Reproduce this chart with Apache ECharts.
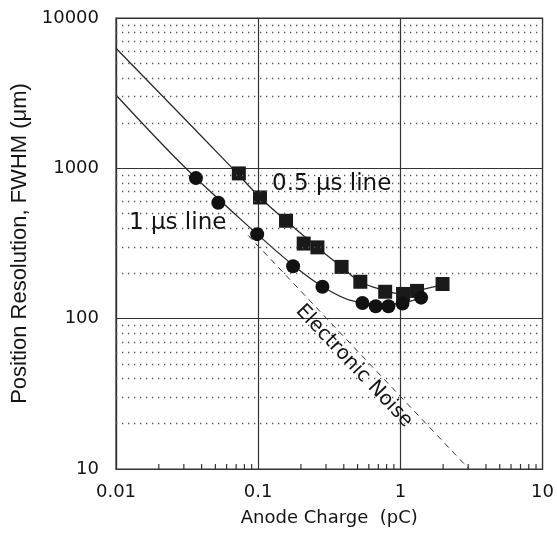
<!DOCTYPE html>
<html>
<head>
<meta charset="utf-8">
<script src="https://cdn.jsdelivr.net/npm/echarts@6/dist/echarts.min.js"></script>
<style>html,body{margin:0;padding:0;background:#fff}#c{width:557px;height:536px}</style>
</head>
<body>
<div id="c"></div>
<script>
// ---- data ----
const circX = [0.0365, 0.0524, 0.0984, 0.176, 0.283, 0.541, 0.671, 0.824, 1.035, 1.40];
const circY = [861, 590, 365, 223, 163, 127, 121, 121, 126, 138];
const sqX = [0.0731, 0.103, 0.157, 0.209, 0.261, 0.386, 0.523, 0.782, 1.045, 1.31, 1.98];
const sqY = [925, 640, 448, 316, 298, 221, 176, 151, 146, 153, 170];
// fitted curves
const fit05X = [0.01, 0.066, 0.103, 0.157, 0.261, 0.386, 0.52, 0.755, 1.02, 1.30, 1.94];
const fit05Y = [6285, 1000, 640, 448, 298, 221, 176, 155, 146, 153, 167];
const fit1X = [0.01, 0.031, 0.0984, 0.176, 0.285, 0.44, 0.75, 0.99, 1.37];
const fit1Y = [3073, 1000, 365, 227, 163, 133, 125, 126, 137];
// electronic noise (dashed)
const noiseX = [0.085, 3.04];
const noiseY = [358, 10];
// ticks
const xTickLabels = ['0.01', '0.1', '1', '10'];
const yTickLabels = ['10', '100', '1000', '10000'];
const xMinorTicks = [0.02,0.03,0.04,0.05,0.06,0.07,0.08,0.09,0.2,0.3,0.4,0.5,0.6,0.7,0.8,0.9,2,3,4,5,6,7,8,9];
const yMinorGrid = [20,30,40,50,60,70,80,90,200,300,400,500,600,700,800,900,2000,3000,4000,5000,6000,7000,8000,9000];

const pairs = (xs, ys) => xs.map((x, i) => [x, ys[i]]);
const ink = '#141414';
const lineCol = '#2a2a2a';

const chart = echarts.init(document.getElementById('c'), null, {renderer: 'canvas'});
chart.setOption({
  animation: false,
  backgroundColor: '#fff',
  grid: {left: 116, right: 14, top: 18, bottom: 67, show: true, borderColor: '#333', borderWidth: 1.2, backgroundColor: 'transparent'},
  xAxis: {
    type: 'log', logBase: 10, min: 0.01, max: 10,
    name: 'Anode Charge  (pC)', nameLocation: 'middle', nameGap: 40,
    nameTextStyle: {fontFamily: 'DejaVu Sans', fontSize: 18, color: ink},
    axisLine: {show: true, lineStyle: {color: '#333', width: 1.2}},
    axisTick: {show: false},
    axisLabel: {margin: 14, fontFamily: 'DejaVu Sans', fontSize: 18, color: ink,
      formatter: (v, i) => xTickLabels[i]},
    splitLine: {show: true, lineStyle: {color: '#333', width: 1.2}},
    minorTick: {show: false}, minorSplitLine: {show: false}
  },
  yAxis: {
    type: 'log', logBase: 10, min: 10, max: 10000,
    name: 'Position Resolution, FWHM (μm)', nameLocation: 'middle', nameGap: 81,
    nameTextStyle: {fontFamily: 'Liberation Sans', fontSize: 22, color: ink},
    axisLine: {show: true, lineStyle: {color: '#333', width: 1.2}},
    axisTick: {show: false},
    axisLabel: {margin: 17, fontFamily: 'DejaVu Sans', fontSize: 18, color: ink,
      formatter: (v, i) => yTickLabels[i]},
    splitLine: {show: true, lineStyle: {color: '#333', width: 1.2}}
  },
  series: [
    { // minor dotted horizontal grid lines
      type: 'line', data: [], silent: true,
      markLine: {
        silent: true, symbol: ['none', 'none'], animation: false,
        label: {show: false},
        lineStyle: {type: [1.3, 4.7], color: '#555', width: 1.3},
        data: yMinorGrid.map(v => ({yAxis: v}))
      }
    },
    { // minor ticks on the bottom axis
      type: 'scatter', silent: true, z: 3, clip: false,
      data: xMinorTicks.map(v => [v, 10]),
      symbol: 'rect', symbolSize: [1.2, 5], symbolOffset: [0, -2.5],
      itemStyle: {color: '#333', opacity: 1}
    },
    { // electronic noise
      type: 'line', data: pairs(noiseX, noiseY), showSymbol: false, silent: true,
      lineStyle: {color: '#333', width: 1, type: [6, 5]}, z: 2
    },
    { // 0.5 us fit
      type: 'line', data: pairs(fit05X, fit05Y), showSymbol: false, smooth: 0.35, silent: true,
      lineStyle: {color: lineCol, width: 1.3}, z: 3
    },
    { // 1 us fit
      type: 'line', data: pairs(fit1X, fit1Y), showSymbol: false, smooth: 0.35, silent: true,
      lineStyle: {color: lineCol, width: 1.3}, z: 3
    },
    {
      type: 'scatter', data: pairs(sqX, sqY), symbol: 'rect', symbolSize: 14,
      itemStyle: {color: '#1a1a1a', opacity: 1}, z: 4
    },
    {
      type: 'scatter', data: pairs(circX, circY), symbol: 'circle', symbolSize: 14,
      itemStyle: {color: '#111', opacity: 1}, z: 5
    }
  ],
  graphic: [
    {type: 'text', x: 272, y: 184, z: 10,
      style: {text: '0.5 μs line', font: '23px "DejaVu Sans"', fill: ink,
        textAlign: 'left', textVerticalAlign: 'middle', align: 'left', verticalAlign: 'middle'}},
    {type: 'text', x: 129, y: 223, z: 10,
      style: {text: '1 μs line', font: '23px "DejaVu Sans"', fill: ink,
        textAlign: 'left', textVerticalAlign: 'middle', align: 'left', verticalAlign: 'middle'}},
    {type: 'text', x: 354, y: 366, rotation: -0.815, z: 10,
      style: {text: 'Electronic Noise', font: '20px "DejaVu Sans"', fill: ink,
        textAlign: 'center', textVerticalAlign: 'middle', align: 'center', verticalAlign: 'middle'}}
  ]
});
</script>
</body>
</html>
